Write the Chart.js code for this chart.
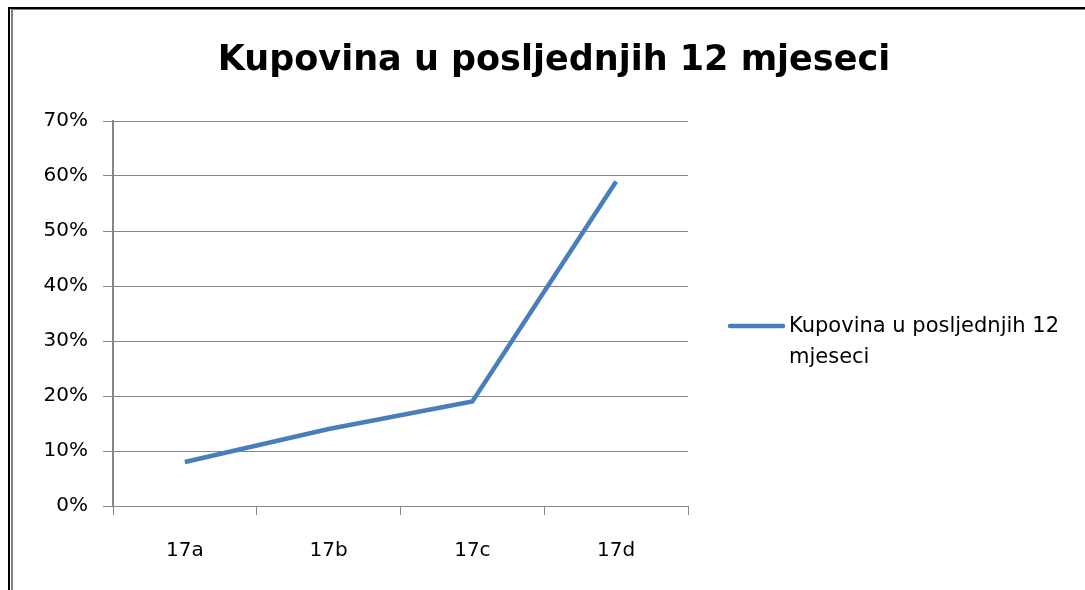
<!DOCTYPE html>
<html>
<head>
<meta charset="utf-8">
<script src="https://cdn.jsdelivr.net/npm/chart.js@4.4.1/dist/chart.umd.min.js"></script>
<style>
  html, body { margin: 0; padding: 0; background: #fff; }
  #wrap { position: relative; width: 1085px; height: 590px; overflow: hidden; }
  #myChart { position: absolute; left: 0; top: 0; }
  .frame { position: absolute; }
</style>
</head>
<body>
<div id="wrap">
  <canvas id="myChart" width="1085" height="590"></canvas>
  <div class="frame" style="left:8px;top:7px;width:2px;height:583px;background:#000"></div>
  <div class="frame" style="left:11px;top:9px;width:2px;height:581px;background:#808080"></div>
  <div class="frame" style="left:8px;top:7px;width:1077px;height:2px;background:#000"></div>
  <div class="frame" style="left:11px;top:9px;width:1074px;height:1px;background:#808080"></div>
</div>
<script>
const titleText = 'Kupovina u posljednjih 12 mjeseci';
const categories = ['17a', '17b', '17c', '17d'];
const purchases = [0.08, 0.14, 0.19, 0.59];
const seriesLabel = ['Kupovina u posljednjih 12', 'mjeseci'];

const lineColor = '#4A7EBB';
const gridColor = '#868686';

// legend on the right, drawn by hand since it wraps on two lines
const sideLegend = {
  id: 'sideLegend',
  afterDraw(chart) {
    const ctx = chart.ctx;
    const x0 = chart.chartArea.right + 42;
    const y0 = 326;
    ctx.save();
    ctx.strokeStyle = lineColor;
    ctx.lineWidth = 4.5;
    ctx.lineCap = 'round';
    ctx.beginPath();
    ctx.moveTo(x0, y0);
    ctx.lineTo(x0 + 53, y0);
    ctx.stroke();
    ctx.fillStyle = '#000';
    ctx.font = '21px "DejaVu Sans"';
    ctx.textBaseline = 'middle';
    seriesLabel.forEach((t, i) => ctx.fillText(t, x0 + 59, y0 + 1 + i * 31));
    ctx.restore();
  }
};

new Chart(document.getElementById('myChart'), {
  type: 'line',
  data: {
    labels: categories,
    datasets: [{
      label: seriesLabel.join(' '),
      data: purchases,
      borderColor: lineColor,
      backgroundColor: lineColor,
      borderWidth: 4.5,
      pointRadius: 0,
      tension: 0,
      fill: false
    }]
  },
  options: {
    responsive: false,
    animation: false,
    layout: { padding: { left: 23, top: 0, right: 0, bottom: 0 } },
    plugins: {
      legend: { display: false },
      tooltip: { enabled: false },
      title: {
        display: true,
        text: titleText,
        color: '#000',
        font: { family: 'DejaVu Sans', size: 35, weight: 'bold', lineHeight: 1.2 },
        padding: { top: 40, bottom: 39 }
      }
    },
    scales: {
      x: {
        offset: true,
        grid: { offset: true, drawOnChartArea: false, color: gridColor, tickLength: 9 },
        border: { color: gridColor, width: 1 },
        ticks: { color: '#000', padding: 24, font: { family: 'DejaVu Sans', size: 20 } },
        afterFit: s => { s.height = 84; }
      },
      y: {
        min: 0,
        max: 0.7,
        ticks: {
          stepSize: 0.1,
          color: '#000',
          padding: 15,
          font: { family: 'DejaVu Sans', size: 20 },
          callback: v => Math.round(v * 100) + '%'
        },
        grid: { color: gridColor, tickLength: 10 },
        border: { color: gridColor, width: 2 },
        afterFit: s => { s.width = 90; }
      },
      legendSpace: {
        type: 'linear',
        position: 'right',
        display: true,
        grid: { display: false },
        ticks: { display: false },
        border: { display: false },
        afterFit: s => { s.width = 397; }
      }
    }
  },
  plugins: [sideLegend]
});
</script>
</body>
</html>
